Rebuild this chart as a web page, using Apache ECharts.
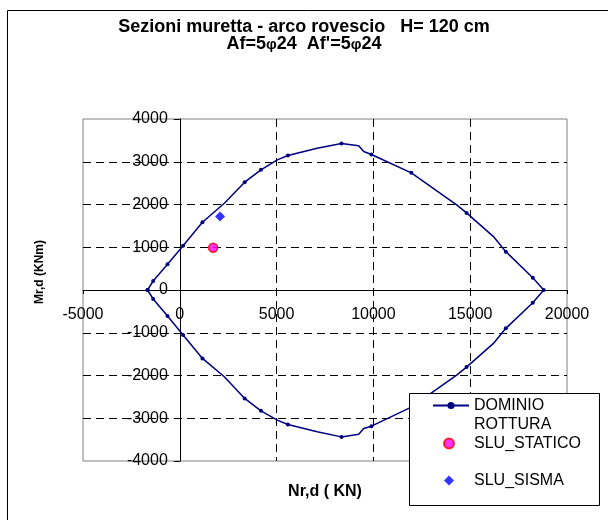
<!DOCTYPE html>
<html>
<head>
<meta charset="utf-8">
<title>Sezioni muretta - arco rovescio</title>
<script src="https://cdn.jsdelivr.net/npm/echarts@6/dist/echarts.min.js"></script>
<style>
  html, body { margin: 0; padding: 0; background: #fff; }
  #main { width: 608px; height: 520px; }
</style>
</head>
<body>
<div id="main"></div>
<script>
// dominio di rottura, giro completo: ramo superiore (sx -> dx) poi ramo inferiore (dx -> sx)
var domainN = [-1665, -1376, -634, 170, 1170, 2300, 3351, 4191, 5036, 5583, 7098, 8351, 9240, 9500, 9897, 11959, 14300, 14811, 16200, 16840, 18232, 18799,
               18232, 16840, 16200, 14811, 14300, 11959, 9897, 9500, 9240, 8351, 7098, 5583, 5036, 4191, 3351, 2300, 1170, 170, -634, -1376, -1665];
var domainM = [0, 211, 602, 1037, 1585, 2030, 2522, 2810, 3044, 3145, 3318, 3427, 3372, 3239, 3169, 2740, 1990, 1803, 1250, 897, 288, 0,
               -297, -897, -1250, -1803, -1990, -2740, -3185, -3239, -3372, -3436, -3318, -3145, -3044, -2827, -2537, -2030, -1600, -1054, -609, -211, 0];
// 1 = punto calcolato (con marcatore), 0 = vertice intermedio della spezzata
var computed = [1, 1, 1, 1, 1, 0, 1, 1, 0, 1, 0, 1, 0, 0, 1, 1, 0, 1, 0, 1, 1, 1,
                1, 1, 0, 1, 0, 1, 1, 0, 0, 1, 0, 1, 0, 1, 1, 0, 1, 1, 1, 1, 1];

// sollecitazioni di verifica
var staticoN = [1720];
var staticoM = [990];
var sismaN = [2080];
var sismaM = [1720];

var xTicks = [-5000, 0, 5000, 10000, 15000, 20000];
var yTicks = [-4000, -3000, -2000, -1000, 0, 1000, 2000, 3000, 4000];

var FONT = 'Liberation Sans, Arial, sans-serif';

var gridBox = { left: 83, top: 119, width: 484, height: 342 };
var xMin = xTicks[0], xMax = xTicks[xTicks.length - 1];
var yMin = yTicks[0], yMax = yTicks[yTicks.length - 1];
// gli assi passano per l'origine (onZero in v6 lascia le etichette sul bordo, quindi si spostano con offset)
var xAxisShift = -gridBox.height * (0 - yMin) / (yMax - yMin);
var yAxisShift = -gridBox.width * (0 - xMin) / (xMax - xMin);

var domainData = domainN.map(function (n, i) {
  return computed[i] ? [n, domainM[i]] : { value: [n, domainM[i]], symbol: 'none' };
});

function plain(v) { return String(v); }

var chart = echarts.init(document.getElementById('main'));

chart.setOption({
  backgroundColor: '#fff',
  animation: false,
  title: {
    left: 'center',
    top: 19,
    padding: 0,
    text: "Sezioni muretta - arco rovescio   H= 120 cm\nAf=5{p|φ}24  Af'=5{p|φ}24",
    textStyle: {
      fontFamily: FONT,
      fontSize: 18,
      fontWeight: 'bold',
      color: '#000',
      lineHeight: 17,
      rich: {
        p: { fontFamily: FONT, fontSize: 15, fontWeight: 'bold', color: '#000', lineHeight: 17 }
      }
    }
  },
  grid: {
    left: gridBox.left,
    top: gridBox.top,
    width: gridBox.width,
    height: gridBox.height,
    show: true,
    borderColor: '#808080',
    borderWidth: 1,
    containLabel: false
  },
  xAxis: {
    type: 'value',
    position: 'bottom',
    offset: xAxisShift,
    min: xMin,
    max: xMax,
    interval: xTicks[1] - xTicks[0],
    axisLine: { show: true, onZero: false, lineStyle: { color: '#000', width: 1 } },
    axisTick: { show: true, length: 4, lineStyle: { color: '#000' } },
    axisLabel: { margin: 17, fontFamily: FONT, fontSize: 16, color: '#000', formatter: plain },
    splitLine: { show: true, showMinLine: false, showMaxLine: false, lineStyle: { color: '#000', type: [8, 5], width: 1 } }
  },
  yAxis: {
    type: 'value',
    position: 'left',
    offset: yAxisShift,
    min: yMin,
    max: yMax,
    interval: yTicks[1] - yTicks[0],
    axisLine: { show: true, onZero: false, lineStyle: { color: '#000', width: 1 } },
    axisTick: { show: true, length: 6, lineStyle: { color: '#000' } },
    axisLabel: { margin: 12, fontFamily: FONT, fontSize: 16, color: '#000', formatter: plain },
    splitLine: { show: true, showMinLine: false, showMaxLine: false, lineStyle: { color: '#000', type: [8, 5], width: 1 } }
  },
  legend: [
    {
      data: ['DOMINIO ROTTURA'],
      formatter: function (name) { return ' \n' + name.replace(' ', '\n'); },
      orient: 'vertical',
      left: 432,
      top: 377,
      padding: 0,
      itemWidth: 36,
      itemHeight: 9,
      itemGap: 0,
      z: 12,
      textStyle: { fontFamily: FONT, fontSize: 16, color: '#000', lineHeight: 19 }
    },
    {
      data: ['SLU_STATICO', 'SLU_SISMA'],
      orient: 'vertical',
      left: 443,
      top: 435,
      padding: 0,
      itemWidth: 10,
      itemHeight: 10,
      itemGap: 20,
      z: 12,
      textStyle: { fontFamily: FONT, fontSize: 16, color: '#000', lineHeight: 17, padding: [0, 0, 0, 15] }
    }
  ],
  graphic: [
    {
      type: 'rect',
      silent: true,
      z: 1,
      shape: { x: 7.5, y: 10.5, width: 800, height: 800 },
      style: { fill: 'none', stroke: '#000', lineWidth: 1 }
    },
    {
      type: 'rect',
      silent: true,
      z: 10,
      shape: { x: 409.5, y: 393.5, width: 190, height: 112 },
      style: { fill: '#fff', stroke: '#000', lineWidth: 1 }
    },
    {
      type: 'text',
      silent: true,
      x: 40,
      y: 272,
      rotation: Math.PI / 2,
      style: { text: 'Mr,d (KNm)', fontFamily: FONT, fontSize: 12, fontWeight: 'bold', fill: '#000', align: 'center', verticalAlign: 'middle' }
    },
    {
      type: 'text',
      silent: true,
      x: 325,
      y: 492,
      style: { text: 'Nr,d ( KN)', fontFamily: FONT, fontSize: 16, fontWeight: 'bold', fill: '#000', align: 'center', verticalAlign: 'middle' }
    }
  ],
  series: [
    {
      name: 'DOMINIO ROTTURA',
      type: 'line',
      data: domainData,
      symbol: 'circle',
      symbolSize: 4,
      showSymbol: true,
      color: '#000080',
      itemStyle: { color: '#000080' },
      lineStyle: { color: '#000080', width: 1.5 },
      z: 3
    },
    {
      name: 'SLU_STATICO',
      type: 'scatter',
      data: staticoN.map(function (n, i) { return [n, staticoM[i]]; }),
      symbol: 'circle',
      symbolSize: 9,
      itemStyle: { color: '#FF00FF', borderColor: '#FF0000', borderWidth: 1.5 },
      z: 4
    },
    {
      name: 'SLU_SISMA',
      type: 'scatter',
      data: sismaN.map(function (n, i) { return [n, sismaM[i]]; }),
      symbol: 'diamond',
      symbolSize: 10,
      itemStyle: { color: '#0000FF' },
      z: 4
    }
  ]
});
</script>
</body>
</html>
